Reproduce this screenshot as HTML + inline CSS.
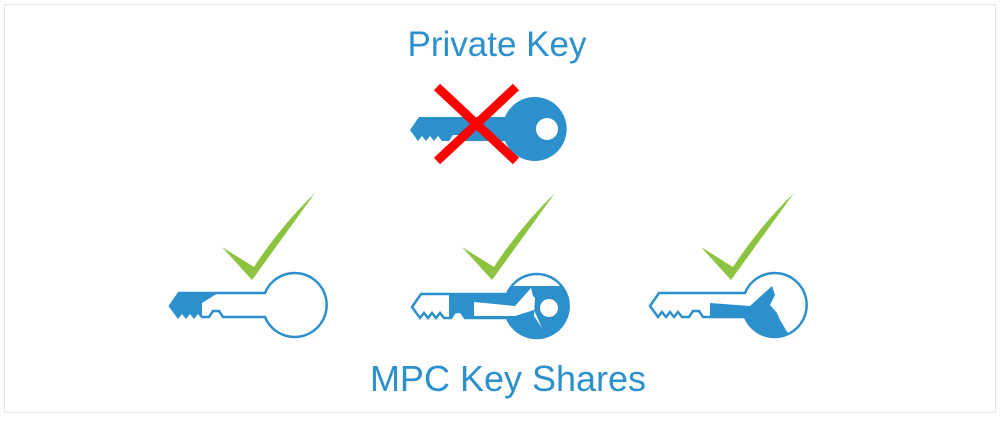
<!DOCTYPE html>
<html><head><style>
body{margin:0;background:#fff;}
svg{display:block}
</style></head><body>
<svg width="1000" height="421" viewBox="0 0 1000 421" xmlns="http://www.w3.org/2000/svg">
<defs>
<path id="k" d="M-125,1 L-116,-12 L-30,-12 A32,32 0 1,1 -30,12 L-72,12 L-76,6 L-82,6 L-86,12 L-93,12 L-97,7 L-101,12 L-105,7 L-109,12 L-113,7 L-117,12 Z"/>
<path id="chk" d="M0,0 L30,33 L93,-54 Q58,-20 32,20 Z"/>
<clipPath id="c1"><path d="M-130,-20 L-72,-20 L-77,-12 L-93,-2 L-93,20 L-130,20 Z"/></clipPath>
<clipPath id="c2"><path d="M-88,-20 L50,-20 L50,50 L-88,50 Z"/></clipPath>
<clipPath id="c3"><path d="M-65,-2 L-25,1 L-3,-19 L0,-10 L-5,0 L2,8 L5,15 L14,30 L20,45 L-40,45 L-65,20 Z"/></clipPath>
</defs>
<rect x="4.5" y="4.5" width="991" height="408" fill="#fff" stroke="#e6e6e6"/>
<g font-family="Liberation Sans, Arial, sans-serif" fill="#2b90cc" text-anchor="middle">
<text x="497" y="56" font-size="35">Private Key</text>
<text x="508" y="391" font-size="36">MPC Key Shares</text>
</g>
<!-- top key -->
<g transform="translate(535,129)">
<use href="#k" fill="#2b90cc"/>
<circle cx="12" cy="0" r="11" fill="#fff"/>
</g>
<g stroke="#ff0000" stroke-width="9">
<line x1="437" y1="87" x2="516" y2="161"/>
<line x1="516" y1="87" x2="437" y2="161"/>
</g>
<!-- key 1 -->
<g transform="translate(295,305)">
<use href="#k" fill="#fff"/>
<use href="#k" fill="#2b90cc" clip-path="url(#c1)"/>
<use href="#k" fill="none" stroke="#2b90cc" stroke-width="2.5"/>
</g>
<!-- key 2 -->
<g transform="translate(537,306)">
<use href="#k" fill="#fff"/>
<use href="#k" fill="#2b90cc" clip-path="url(#c2)"/>
<path d="M-63,-4 L-22,0 L-6,-18 L-4,-10 L-2,-8 L-3,10 L5,22 L-3,4 L-22,10 L-63,10 Z" fill="#fff"/>
<circle cx="12" cy="2" r="9" fill="#fff"/>
<use href="#k" fill="none" stroke="#2b90cc" stroke-width="2.5"/>
</g>
<!-- key 3 -->
<g transform="translate(775,305)">
<use href="#k" fill="#fff"/>
<use href="#k" fill="#2b90cc" clip-path="url(#c3)"/>
<use href="#k" fill="none" stroke="#2b90cc" stroke-width="2.5"/>
</g>
<g fill="#8cc43f">
<use href="#chk" transform="translate(222,247)"/>
<use href="#chk" transform="translate(462,247)"/>
<use href="#chk" transform="translate(701,247)"/>
</g>
</svg>
</body></html>
